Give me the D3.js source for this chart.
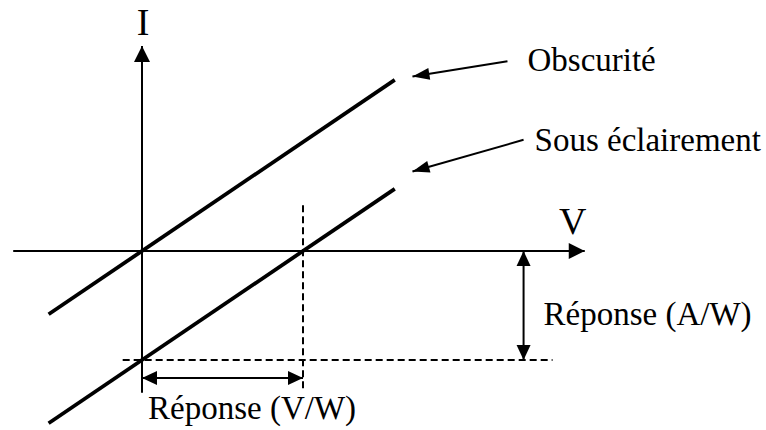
<!DOCTYPE html>
<html>
<head>
<meta charset="utf-8">
<script src="https://cdn.jsdelivr.net/npm/d3@7"></script>
<style>
  body { margin: 0; background: #fff; }
</style>
</head>
<body>
<svg id="chart"></svg>
<script>
const width = 766
const height = 430
const serif = "'Liberation Serif', 'Times New Roman', Times, 'DejaVu Serif', serif"

// I-V characteristics: I = V + offset (arbitrary units)
const curves = ['Obscurité', 'Sous éclairement']
const offsets = [0, -1]
const vRange = [-0.58, 1.57]

// axes extent (V and I units)
const axisV = [-0.8, 2.75]
const axisI = [-1.3, 1.88]

// dashed guides
const vOpen = 1                 // open-circuit voltage under light
const iShort = -1               // short-circuit current under light
const vGuideSpan = [-1.26, 0.42]
const iGuideSpan = [-0.12, 2.55]

// response arrows
const vAW = 2.37                // where the A/W arrow sits on V
const iVW = -1.165              // where the V/W arrow sits on I
const responses = ['Réponse (A/W)', 'Réponse (V/W)']

// label pointers: [fromV, fromI, toV, toI]
const pointers = [[2.27, 1.74, 1.68, 1.6], [2.37, 1.02, 1.68, 0.73]]

const svg = d3.select('#chart')
  .attr('width', width)
  .attr('height', height)

const x = d3.scaleLinear().domain([0, 1]).range([142, 303])
const y = d3.scaleLinear().domain([0, -1]).range([251, 360])

// triangle head with its tip at (tx, ty), pointing from (fx, fy)
function head(fx, fy, tx, ty, len, half) {
  const a = Math.atan2(ty - fy, tx - fx)
  const bx = tx - len * Math.cos(a), by = ty - len * Math.sin(a)
  const px = -Math.sin(a) * half, py = Math.cos(a) * half
  svg.append('path')
    .attr('d', `M${tx},${ty}L${bx + px},${by + py}L${bx - px},${by - py}Z`)
    .attr('fill', '#000')
}

function arrow(fx, fy, tx, ty, w, len, half, both) {
  svg.append('line')
    .attr('x1', fx).attr('y1', fy).attr('x2', tx).attr('y2', ty)
    .attr('stroke', '#000').attr('stroke-width', w)
  head(fx, fy, tx, ty, len, half)
  if (both) head(tx, ty, fx, fy, len, half)
}

function label(px, py, size, str, anchor) {
  svg.append('text')
    .attr('x', px).attr('y', py)
    .attr('text-anchor', anchor || 'start')
    .attr('font-family', serif)
    .style('font-family', serif)
    .attr('font-size', size)
    .attr('fill', '#000')
    .text(str)
}

// axes
arrow(x(axisV[0]), y(0), x(axisV[1]), y(0), 2, 16, 8)
arrow(x(0), y(axisI[0]), x(0), y(axisI[1]), 2, 16, 8)

label(x(0) + 1, y(axisI[1]) - 11, 38, 'I', 'middle')
label(x(axisV[1]) - 12, y(0) - 17, 38, 'V', 'middle')

// dashed guides
svg.append('line')
  .attr('x1', x(vOpen)).attr('x2', x(vOpen))
  .attr('y1', y(vGuideSpan[1])).attr('y2', y(vGuideSpan[0]))
  .attr('stroke', '#000').attr('stroke-width', 2).attr('stroke-dasharray', '7,4')
svg.append('line')
  .attr('x1', x(iGuideSpan[0])).attr('x2', x(iGuideSpan[1]))
  .attr('y1', y(iShort)).attr('y2', y(iShort))
  .attr('stroke', '#000').attr('stroke-width', 2).attr('stroke-dasharray', '7,4')

// characteristics
const line = d3.line().x(d => x(d[0])).y(d => y(d[1]))
svg.selectAll('.curve')
  .data(offsets)
  .join('path')
  .attr('class', 'curve')
  .attr('d', o => line(vRange.map(v => [v, v + o])))
  .attr('fill', 'none')
  .attr('stroke', '#000')
  .attr('stroke-width', 3.8)

// response double arrows
arrow(x(vAW), y(0), x(vAW), y(iShort), 2, 15, 7, true)
arrow(x(0), y(iVW), x(vOpen), y(iVW), 2, 15, 7, true)

label(x(vAW) + 20, (y(0) + y(iShort)) / 2 + 19, 33, responses[0])
label(x(0) + 6, y(iVW) + 41, 33, responses[1])

// curve labels with pointers
const labelShift = [[20, 10], [11, 11]]
pointers.forEach((p, i) => {
  arrow(x(p[0]), y(p[1]), x(p[2]), y(p[3]), 2, 17, 6)
  label(x(p[0]) + labelShift[i][0], y(p[1]) + labelShift[i][1], 33, curves[i])
})
</script>
</body>
</html>
